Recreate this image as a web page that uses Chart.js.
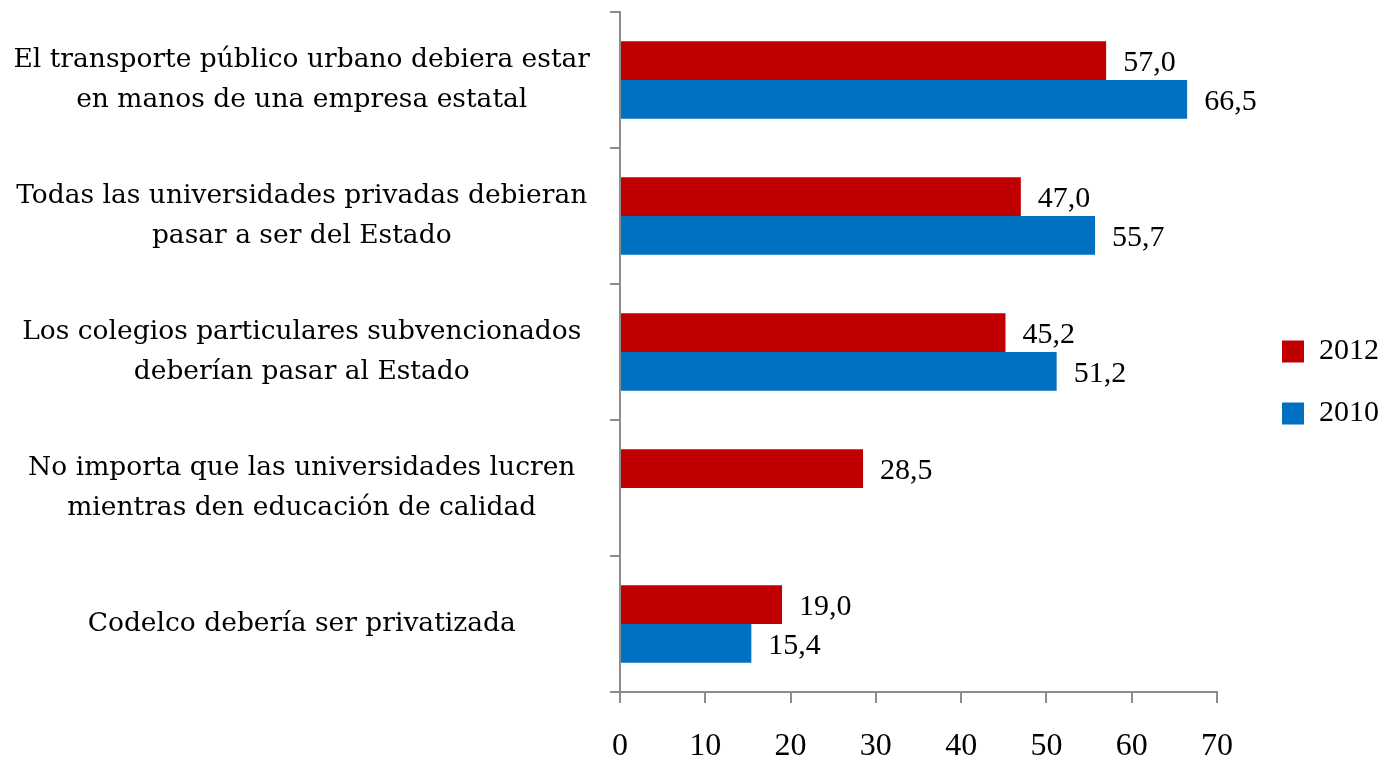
<!DOCTYPE html>
<html>
<head>
<meta charset="utf-8">
<script src="https://cdn.jsdelivr.net/npm/chart.js@4/dist/chart.umd.min.js"></script>
<style>
  html, body { margin: 0; padding: 0; background: #ffffff; }
  #wrap { width: 1393px; height: 771px; }
</style>
</head>
<body>
<div id="wrap"><canvas id="c" width="1393" height="771"></canvas></div>
<script>
// Statements (two lines each) and the share agreeing, by survey year
const categories = [
  ['El transporte público urbano debiera estar', 'en manos de una empresa estatal'],
  ['Todas las universidades privadas debieran', 'pasar a ser del Estado'],
  ['Los colegios particulares subvencionados', 'deberían pasar al Estado'],
  ['No importa que las universidades lucren', 'mientras den educación de calidad'],
  ['Codelco debería ser privatizada']
];
const values2012 = [57.0, 47.0, 45.2, 28.5, 19.0];
const values2010 = [66.5, 55.7, 51.2, null, 15.4];
const seriesNames = ['2012', '2010'];
const xTicks = [0, 10, 20, 30, 40, 50, 60, 70];

const SERIF = '"Liberation Serif", "DejaVu Serif", serif';
const LABEL_SERIF = '"DejaVu Serif", "Liberation Serif", serif';
const AXIS_GREY = '#8c8c8c';

const fmt = v => v.toFixed(1).replace('.', ',');

// Writes each bar's value just past its end
const valueLabels = {
  id: 'valueLabels',
  afterDatasetsDraw(chart) {
    const ctx = chart.ctx;
    ctx.save();
    ctx.font = '30px ' + SERIF;
    ctx.fillStyle = '#000';
    ctx.textAlign = 'left';
    ctx.textBaseline = 'middle';
    chart.data.datasets.forEach((ds, di) => {
      const meta = chart.getDatasetMeta(di);
      meta.data.forEach((bar, i) => {
        const v = ds.data[i];
        if (v === null || v === undefined) return;
        ctx.fillText(fmt(v), bar.x + 17, bar.y + 3);
      });
    });
    ctx.restore();
  }
};

// Nudges the legend block to sit further right and slightly higher
const legendPlace = {
  id: 'legendPlace',
  afterLayout(chart) {
    const lg = chart.legend;
    if (!lg) return;
    const dx = 33, dy = -9;
    lg.left += dx; lg.right += dx;
    lg.top += dy; lg.bottom += dy;
  }
};

new Chart(document.getElementById('c'), {
  type: 'bar',
  data: {
    labels: categories,
    datasets: [
      {
        label: seriesNames[0],
        data: values2012,
        backgroundColor: '#C00000',
        borderWidth: 0
      },
      {
        label: seriesNames[1],
        data: values2010,
        backgroundColor: '#0070C0',
        borderWidth: 0
      }
    ]
  },
  options: {
    indexAxis: 'y',
    responsive: false,
    animation: false,
    maintainAspectRatio: false,
    layout: { padding: { top: 12, left: 0, right: 37, bottom: 0 } },
    datasets: {
      bar: { categoryPercentage: 0.57, barPercentage: 1.0 }
    },
    scales: {
      y: {
        type: 'category',
        offset: true,
        afterFit(scale) {
          scale.width = 620;
          scale.paddingTop = 0;
          scale.paddingBottom = 0;
        },
        grid: {
          offset: true,
          drawOnChartArea: false,
          drawTicks: true,
          tickLength: 10,
          color: AXIS_GREY,
          lineWidth: 2
        },
        border: { display: true, color: AXIS_GREY, width: 2 },
        ticks: {
          crossAlign: 'center',
          padding: 20,
          color: '#000',
          font: { family: LABEL_SERIF, size: 26.5, lineHeight: 1.5 }
        }
      },
      x: {
        type: 'linear',
        min: 0,
        max: 70,
        afterFit(scale) { scale.height = 79; },
        afterBuildTicks(scale) { scale.ticks = xTicks.map(v => ({ value: v })); },
        grid: {
          drawOnChartArea: false,
          drawTicks: true,
          tickLength: 11,
          color: AXIS_GREY,
          lineWidth: 2
        },
        border: { display: true, color: AXIS_GREY, width: 2 },
        ticks: {
          padding: 24,
          color: '#000',
          font: { family: SERIF, size: 32 },
          callback: v => String(v)
        }
      }
    },
    plugins: {
      legend: {
        display: true,
        position: 'right',
        align: 'center',
        labels: {
          boxWidth: 22,
          boxHeight: 22,
          padding: 32,
          color: '#000',
          font: { family: SERIF, size: 30 }
        }
      },
      tooltip: { enabled: false }
    }
  },
  plugins: [valueLabels, legendPlace]
});
</script>
</body>
</html>
